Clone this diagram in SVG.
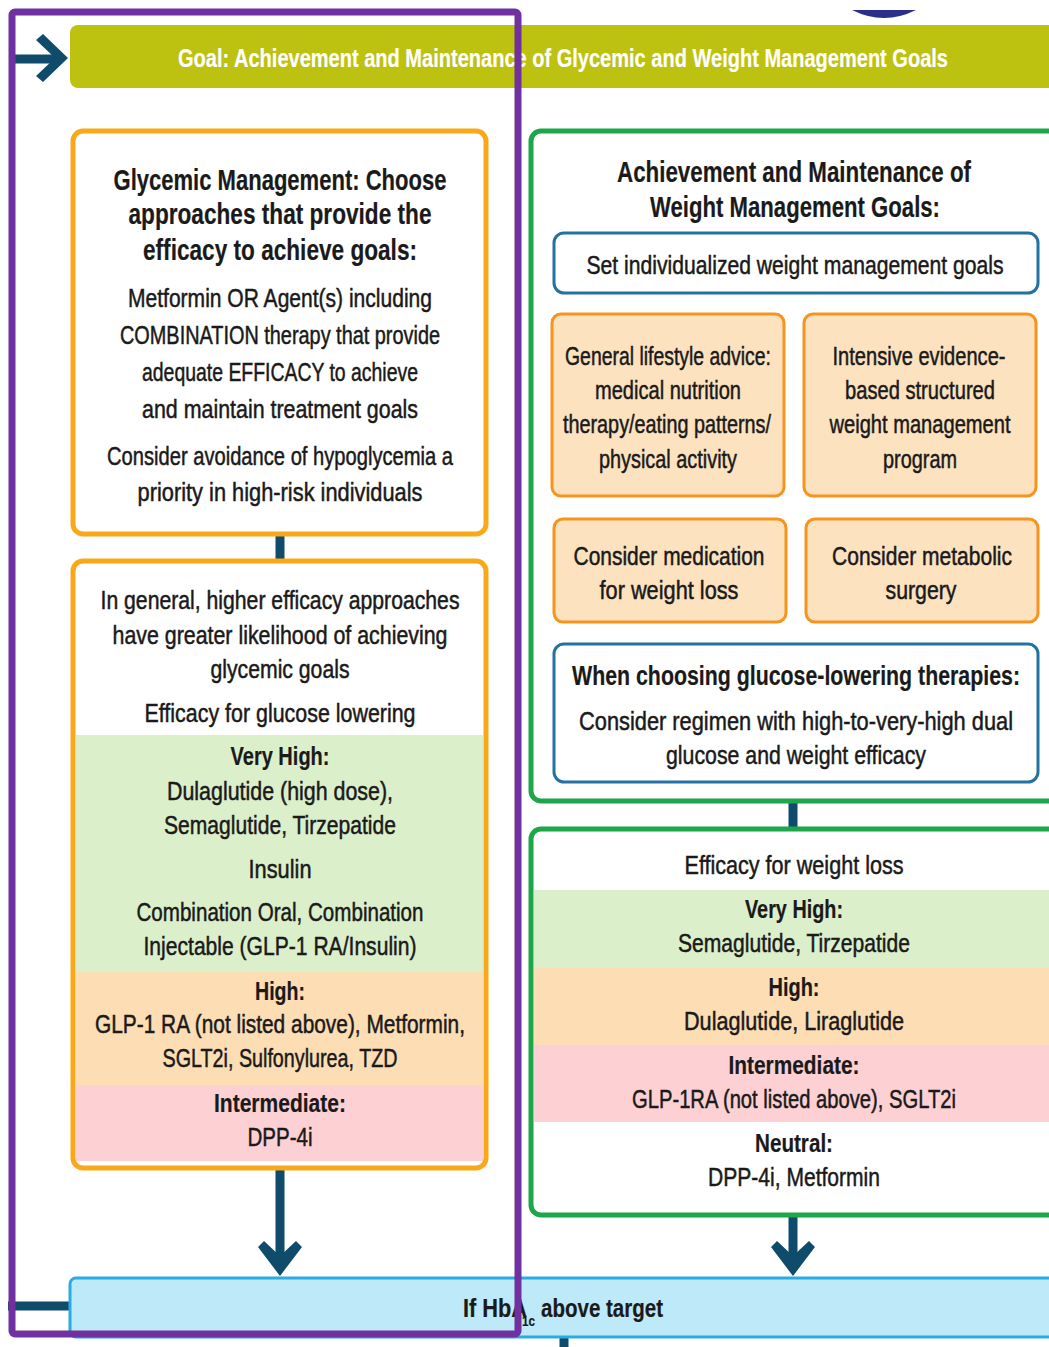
<svg xmlns="http://www.w3.org/2000/svg" width="1049" height="1347" viewBox="0 0 1049 1347">
<style>
.t{font-family:"Liberation Sans",Arial,sans-serif;font-size:26px;text-anchor:middle;fill:#1a1a1a;stroke:#1a1a1a;stroke-width:0.5}
.b{font-weight:bold;stroke-width:0.2}
.h{font-size:30px;font-weight:bold;stroke-width:0.2}
.ob{fill:#fff;stroke:#F8A818;stroke-width:5}
.gb{fill:#fff;stroke:#1DA64A;stroke-width:5}
.bb{fill:#fff;stroke:#2471A3;stroke-width:3}
.or{fill:#FDE2C0;stroke:#F7941D;stroke-width:3}
.conn{stroke:#0F4C6B;stroke-width:9;fill:none}
.head{fill:#0F4C6B}
</style>
<rect width="1049" height="1347" fill="#fff"/>
<path d="M852,10 L916,10 Q884,26 852,10 Z" fill="#2B2F8C"/>

<g id="goal">
<rect x="70" y="25" width="1000" height="63" rx="8" fill="#BDC10F"/>
<text class="t b" x="563" y="67" style="fill:#fff;stroke:#fff;font-size:26px" textLength="770" lengthAdjust="spacingAndGlyphs">Goal: Achievement and Maintenance of Glycemic and Weight Management Goals</text>
</g>

<g id="connectors">
<line class="conn" x1="12" y1="59" x2="56" y2="59"/>
<polygon class="head" points="36,40 43,34 68,58 43,82 36,76 55,58"/>
<line class="conn" x1="280" y1="535" x2="280" y2="560"/>
<line class="conn" x1="793" y1="802" x2="793" y2="828"/>
<line class="conn" x1="280" y1="1170" x2="280" y2="1258"/>
<polygon class="head" points="258,1247 264,1241 280,1256 296,1241 302,1247 280,1276"/>
<line class="conn" x1="793" y1="1215" x2="793" y2="1258"/>
<polygon class="head" points="771,1247 777,1241 793,1256 809,1241 815,1247 793,1276"/>
<line class="conn" x1="8" y1="1306" x2="70" y2="1306"/>
<line class="conn" x1="564" y1="1337" x2="564" y2="1347"/>
</g>

<g id="glycemic-mgmt">
<rect class="ob" x="73" y="131" width="413" height="403" rx="10"/>
<text class="t h" x="280" y="190" textLength="333" lengthAdjust="spacingAndGlyphs">Glycemic Management: Choose</text>
<text class="t h" x="280" y="224" textLength="303" lengthAdjust="spacingAndGlyphs">approaches that provide the</text>
<text class="t h" x="280" y="260" textLength="274" lengthAdjust="spacingAndGlyphs">efficacy to achieve goals:</text>
<text class="t" x="280" y="307" textLength="304" lengthAdjust="spacingAndGlyphs">Metformin OR Agent(s) including</text>
<text class="t" x="280" y="344" textLength="320" lengthAdjust="spacingAndGlyphs">COMBINATION therapy that provide</text>
<text class="t" x="280" y="381" textLength="276" lengthAdjust="spacingAndGlyphs">adequate EFFICACY to achieve</text>
<text class="t" x="280" y="418" textLength="276" lengthAdjust="spacingAndGlyphs">and maintain treatment goals</text>
<text class="t" x="280" y="465" textLength="346" lengthAdjust="spacingAndGlyphs">Consider avoidance of hypoglycemia a</text>
<text class="t" x="280" y="501" textLength="285" lengthAdjust="spacingAndGlyphs">priority in high-risk individuals</text>
</g>

<g id="glucose-efficacy">
<rect class="ob" x="73" y="561" width="413" height="607" rx="10"/>
<rect x="76" y="735" width="407" height="237" fill="#DCEFCB"/>
<rect x="76" y="972" width="407" height="113" fill="#FDDDB4"/>
<rect x="76" y="1085" width="407" height="76" fill="#FDD1D3"/>
<text class="t" x="280" y="609" textLength="359" lengthAdjust="spacingAndGlyphs">In general, higher efficacy approaches</text>
<text class="t" x="280" y="644" textLength="335" lengthAdjust="spacingAndGlyphs">have greater likelihood of achieving</text>
<text class="t" x="280" y="678" textLength="139" lengthAdjust="spacingAndGlyphs">glycemic goals</text>
<text class="t" x="280" y="722" textLength="271" lengthAdjust="spacingAndGlyphs">Efficacy for glucose lowering</text>
<text class="t b" x="280" y="765" textLength="99" lengthAdjust="spacingAndGlyphs">Very High:</text>
<text class="t" x="280" y="800" textLength="226" lengthAdjust="spacingAndGlyphs">Dulaglutide (high dose),</text>
<text class="t" x="280" y="834" textLength="232" lengthAdjust="spacingAndGlyphs">Semaglutide, Tirzepatide</text>
<text class="t" x="280" y="878" textLength="63" lengthAdjust="spacingAndGlyphs">Insulin</text>
<text class="t" x="280" y="921" textLength="287" lengthAdjust="spacingAndGlyphs">Combination Oral, Combination</text>
<text class="t" x="280" y="955" textLength="273" lengthAdjust="spacingAndGlyphs">Injectable (GLP-1 RA/Insulin)</text>
<text class="t b" x="280" y="1000" textLength="50" lengthAdjust="spacingAndGlyphs">High:</text>
<text class="t" x="280" y="1033" textLength="370" lengthAdjust="spacingAndGlyphs">GLP-1 RA (not listed above), Metformin,</text>
<text class="t" x="280" y="1067" textLength="235" lengthAdjust="spacingAndGlyphs">SGLT2i, Sulfonylurea, TZD</text>
<text class="t b" x="280" y="1112" textLength="132" lengthAdjust="spacingAndGlyphs">Intermediate:</text>
<text class="t" x="280" y="1146" textLength="65" lengthAdjust="spacingAndGlyphs">DPP-4i</text>
</g>

<g id="weight-mgmt">
<rect class="gb" x="531" y="131" width="540" height="670" rx="10"/>
<text class="t h" x="794" y="182" textLength="354" lengthAdjust="spacingAndGlyphs">Achievement and Maintenance of</text>
<text class="t h" x="795" y="217" textLength="290" lengthAdjust="spacingAndGlyphs">Weight Management Goals:</text>
</g>
<g id="set-goals">
<rect class="bb" x="554" y="233" width="484" height="60" rx="10"/>
<text class="t" x="795" y="274" textLength="417" lengthAdjust="spacingAndGlyphs">Set individualized weight management goals</text>
</g>
<g id="lifestyle">
<rect class="or" x="552" y="314" width="232" height="182" rx="9"/>
<text class="t" x="668" y="365" textLength="206" lengthAdjust="spacingAndGlyphs">General lifestyle advice:</text>
<text class="t" x="668" y="399" textLength="146" lengthAdjust="spacingAndGlyphs">medical nutrition</text>
<text class="t" x="667" y="433" textLength="208" lengthAdjust="spacingAndGlyphs">therapy/eating patterns/</text>
<text class="t" x="668" y="468" textLength="138" lengthAdjust="spacingAndGlyphs">physical activity</text>
</g>
<g id="intensive">
<rect class="or" x="804" y="314" width="232" height="182" rx="9"/>
<text class="t" x="919" y="365" textLength="173" lengthAdjust="spacingAndGlyphs">Intensive evidence-</text>
<text class="t" x="920" y="399" textLength="150" lengthAdjust="spacingAndGlyphs">based structured</text>
<text class="t" x="920" y="433" textLength="181" lengthAdjust="spacingAndGlyphs">weight management</text>
<text class="t" x="920" y="468" textLength="74" lengthAdjust="spacingAndGlyphs">program</text>
</g>
<g id="medication">
<rect class="or" x="554" y="519" width="232" height="103" rx="9"/>
<text class="t" x="669" y="565" textLength="191" lengthAdjust="spacingAndGlyphs">Consider medication</text>
<text class="t" x="669" y="599" textLength="139" lengthAdjust="spacingAndGlyphs">for weight loss</text>
</g>
<g id="surgery">
<rect class="or" x="806" y="519" width="232" height="103" rx="9"/>
<text class="t" x="922" y="565" textLength="180" lengthAdjust="spacingAndGlyphs">Consider metabolic</text>
<text class="t" x="921" y="599" textLength="71" lengthAdjust="spacingAndGlyphs">surgery</text>
</g>
<g id="choosing">
<rect class="bb" x="554" y="644" width="484" height="138" rx="10"/>
<text class="t b" x="796" y="685" style="font-size:28px" textLength="448" lengthAdjust="spacingAndGlyphs">When choosing glucose-lowering therapies:</text>
<text class="t" x="796" y="730" textLength="434" lengthAdjust="spacingAndGlyphs">Consider regimen with high-to-very-high dual</text>
<text class="t" x="796" y="764" textLength="260" lengthAdjust="spacingAndGlyphs">glucose and weight efficacy</text>
</g>

<g id="weight-efficacy">
<rect class="gb" x="531" y="829" width="540" height="386" rx="10"/>
<rect x="534" y="890" width="520" height="78" fill="#DCEFCB"/>
<rect x="534" y="968" width="520" height="77" fill="#FDDDB4"/>
<rect x="534" y="1045" width="520" height="77" fill="#FDD1D3"/>
<text class="t" x="794" y="874" textLength="219" lengthAdjust="spacingAndGlyphs">Efficacy for weight loss</text>
<text class="t b" x="794" y="918" textLength="98" lengthAdjust="spacingAndGlyphs">Very High:</text>
<text class="t" x="794" y="952" textLength="232" lengthAdjust="spacingAndGlyphs">Semaglutide, Tirzepatide</text>
<text class="t b" x="794" y="996" textLength="51" lengthAdjust="spacingAndGlyphs">High:</text>
<text class="t" x="794" y="1030" textLength="220" lengthAdjust="spacingAndGlyphs">Dulaglutide, Liraglutide</text>
<text class="t b" x="794" y="1074" textLength="131" lengthAdjust="spacingAndGlyphs">Intermediate:</text>
<text class="t" x="794" y="1108" textLength="324" lengthAdjust="spacingAndGlyphs">GLP-1RA (not listed above), SGLT2i</text>
<text class="t b" x="794" y="1152" textLength="78" lengthAdjust="spacingAndGlyphs">Neutral:</text>
<text class="t" x="794" y="1186" textLength="172" lengthAdjust="spacingAndGlyphs">DPP-4i, Metformin</text>
</g>

<g id="hba1c">
<rect x="70" y="1278" width="1000" height="59" rx="6" fill="#BDE9F9" stroke="#2AACE3" stroke-width="3"/>
<text class="t b" x="463" y="1317" style="text-anchor:start" textLength="64" lengthAdjust="spacingAndGlyphs">If HbA</text>
<text class="t b" x="522" y="1326" style="text-anchor:start;font-size:14px" textLength="13" lengthAdjust="spacingAndGlyphs">1c</text>
<text class="t b" x="541" y="1317" style="text-anchor:start" textLength="122" lengthAdjust="spacingAndGlyphs">above target</text>
</g>

<rect id="highlight" x="12" y="12" width="506" height="1322" rx="3" fill="none" stroke="#7030A0" stroke-width="7"/>
</svg>
